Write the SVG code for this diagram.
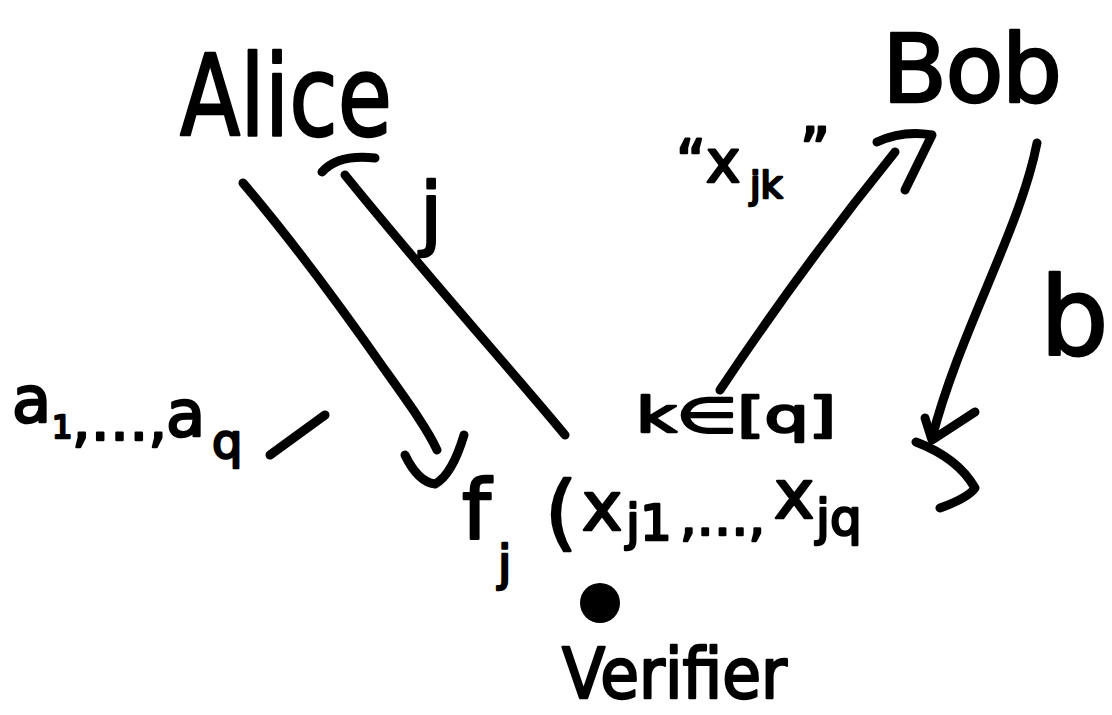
<svg xmlns="http://www.w3.org/2000/svg" width="1112" height="715" viewBox="0 0 1112 715">
<style>
text{font-family:"DejaVu Sans","Liberation Sans",sans-serif;fill:#000;stroke:#000;stroke-width:2.5;stroke-linejoin:round}
.c{fill:none;stroke:#000;stroke-width:9;stroke-linecap:round;stroke-linejoin:round}
</style>
<rect width="1112" height="715" fill="#fff"/>
<g id="alice"><text x="180" y="135" font-size="112" textLength="212" lengthAdjust="spacingAndGlyphs">Alice</text></g>
<g id="bob"><text x="882" y="102" font-size="95" textLength="180" lengthAdjust="spacing">Bob</text></g>
<g id="f-node">
<text x="462" y="538" font-size="82">f</text>
<text x="498" y="580" font-size="48">j</text>
<text x="545" y="540" font-size="82">(</text>
<text x="582" y="530" font-size="68">x</text>
<text x="626" y="540" font-size="50">j1</text>
<text x="680" y="535" font-size="52">,…,</text>
<text x="774" y="518" font-size="68">x</text>
<text x="816" y="535" font-size="50">jq</text>
</g>
<g id="verifier">
<circle cx="600" cy="603" r="20" fill="#000"/>
<text x="562" y="698" font-size="70" textLength="225" lengthAdjust="spacingAndGlyphs">Verifier</text>
</g>
<g id="labels">
<text x="420" y="240" font-size="80">j</text>
<text x="676" y="182" font-size="58">“x</text>
<text x="750" y="198" font-size="38">jk</text>
<text x="800" y="170" font-size="58">”</text>
<text x="1040" y="355" font-size="108">b</text>
<text x="636" y="432" font-size="48" textLength="200" lengthAdjust="spacingAndGlyphs">k∈[q]</text>
<text x="12" y="422" font-size="64">a</text>
<text x="52" y="438" font-size="32">1</text>
<text x="72" y="440" font-size="58">,…,</text>
<text x="166" y="436" font-size="64">a</text>
<text x="212" y="458" font-size="48">q</text>
</g>
<g id="connectors">
<path class="c" d="M270 455 L325 415"/>
<path class="c" d="M243 183 C300 250 350 320 385 370 C410 405 428 430 437 450"/>
<path class="c" d="M405 455 Q418 482 435 484 Q452 475 464 435"/>
<path class="c" d="M565 435 C520 380 430 280 345 175"/>
<path class="c" d="M322 172 Q338 154 375 158"/>
<path class="c" d="M720 390 C780 300 840 220 895 152"/>
<path class="c" d="M877 142 Q903 130 932 135 L905 190"/>
<path class="c" d="M1037 143 C1020 230 960 330 932 438"/>
<path class="c" d="M925 418 L932 440 L975 412"/>
<path class="c" d="M916 442 Q958 458 975 488 Q968 498 940 508"/>
</g>
</svg>
